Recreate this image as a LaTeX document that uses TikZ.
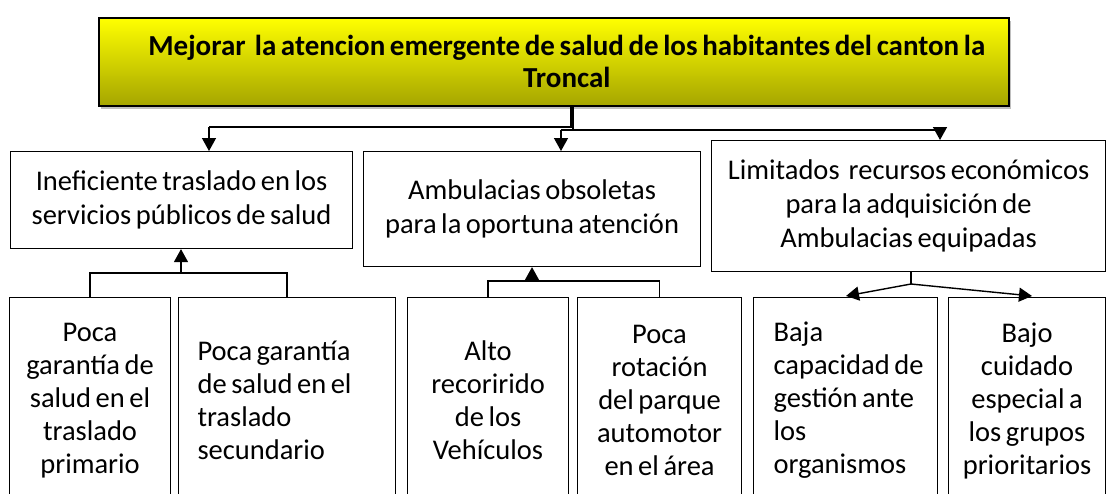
\documentclass[tikz,border=0pt]{standalone}
\usepackage{fontspec}
\setmainfont{Carlito}
\usetikzlibrary{positioning,arrows.meta,calc,shadows}

\begin{document}
\begin{tikzpicture}[x=1pt,y=-1pt,
  box/.style={draw,line width=1.1pt,anchor=north west,inner sep=0pt,
    align=center,font=\fontsize{28.5}{34}\selectfont,
    execute at begin node={\spaceskip=0.16em\relax}},
  cause/.style={box,minimum height=206pt,font=\fontsize{28.5}{33}\selectfont},
  line/.style={line width=1.4pt},
  arr/.style={line width=1.4pt,-{Triangle[length=13pt,width=14pt]}}]

  \clip (0,0) rectangle (1108,493);

  \node[box,line width=1.6pt,minimum width=910pt,minimum height=88pt,text width=896pt,
    top color=yellow,bottom color={rgb,255:red,165;green,165;blue,0},
    drop shadow={shadow xshift=2pt,shadow yshift=-3pt,opacity=0.5},
    font=\bfseries\fontsize{29}{32}\selectfont] (top) at (98,17)
    {\hspace*{26pt}Mejorar\ \ la atencion emergente de salud de los habitantes del canton la\\\hspace*{26pt}Troncal};

  \node[box,minimum width=342pt,minimum height=97pt,text width=334pt] (n1) at (10,151)
    {Ineficiente traslado en los\\servicios públicos de salud};
  \node[box,minimum width=337pt,minimum height=115pt,text width=329pt] (n2) at (363,151)
    {Ambulacias obsoletas\\para la oportuna atención};
  \node[box,minimum width=394pt,minimum height=131pt,text width=386pt] (n3) at (711,140)
    {Limitados\ \ recursos económicos\\para la adquisición de\\Ambulacias equipadas};

  \node[cause,minimum width=161pt,text width=155pt] (b1) at (9,297)
    {Poca\\garantía de\\salud en el\\traslado\\primario};
  \node[cause,minimum width=217pt,text width=179pt,align=left] (b2) at (178,297)
    {Poca garantía\\de salud en el\\traslado\\secundario};
  \node[cause,minimum width=161pt,text width=155pt] (b3) at (407,297)
    {Alto\\recorirido\\de los\\Vehículos};
  \node[cause,minimum width=164pt,text width=158pt] (b4) at (577,297)
    {Poca\\rotación\\del parque\\automotor\\en el área};
  \node[cause,minimum width=184pt,text width=164pt,align=left] (b5) at (753,297)
    {\hspace*{10pt}Baja\\\hspace*{10pt}capacidad de\\\hspace*{10pt}gestión ante\\\hspace*{10pt}los\\\hspace*{10pt}organismos};
  \node[cause,minimum width=157pt,text width=153pt] (b6) at (948,297)
    {Bajo\\cuidado\\especial a\\los grupos\\prioritarios};

  \coordinate (j0) at (571,127);
  \coordinate (jl) at (209,127);
  \coordinate (j1) at (573,130);
  \coordinate (jm) at (561,130);
  \coordinate (jr) at (940,130);
  \coordinate (k1) at (181,273);
  \coordinate (k2) at (532,281);
  \coordinate (k3) at (911,284);

  \draw[line] (top.south -| j0) -- (j0) -- (jl);
  \draw[line] (top.south -| j1) -- (j1);
  \draw[line] (jm) -- (jr);
  \draw[arr] (jl) -- (jl |- n1.north);
  \draw[arr] (jm) -- (jm |- n2.north);
  \draw[arr] (jr) -- (jr |- n3.north);

  \draw[line] (b1.north) -- (b1.north |- k1) -- (b2.north |- k1) -- (b2.north);
  \draw[arr] (k1) -- (k1 |- n1.south);

  \draw[line] (b3.north) -- (b3.north |- k2) -- (b4.north |- k2) -- (b4.north);
  \draw[arr] (k2) -- (k2 |- n2.south);

  \draw[line] (k3 |- n3.south) -- (k3);
  \draw[arr] (k3) -- (846,296) coordinate (p5);
  \draw[arr] (k3) -- (1032,296) coordinate (p6);

\end{tikzpicture}
\end{document}
